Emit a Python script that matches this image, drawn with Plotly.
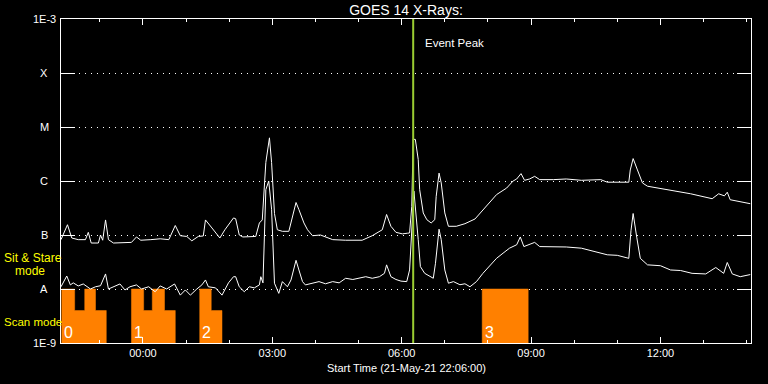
import math
import pandas as pd
import plotly.graph_objects as go

# ---------------- data ----------------
start_time = "2021-05-21 22:06:00"
end_time = "2021-05-22 14:06:00"
event_peak_time = "2021-05-22 06:16:00"

# long channel (1-8 A), minutes after start, flux W/m^2
long_min = [0, 9, 15, 24, 34, 38, 42, 52, 55, 58, 62, 66, 73, 86, 98, 105, 111, 125, 138, 150,
            159, 166, 175, 182, 191, 198, 201, 210, 221, 228, 240, 243, 248, 253, 271, 276, 280, 285, 290, 293,
            297, 301, 308, 317, 327, 331, 338, 343, 350, 361, 378, 396, 419, 433, 447, 453, 459, 466, 475, 482,
            485, 488, 490, 493, 497, 499, 504, 509, 515, 520, 522, 526, 529, 534, 539, 550, 562, 576, 592, 606,
            620, 629, 634, 640, 645, 652, 659, 666, 685, 703, 724, 741, 751, 760, 790, 792, 796, 802, 809, 816,
            843, 876, 906, 915, 923, 927, 931, 943, 959]
long_flux = [8.2e-8, 1.55e-7, 8.8e-8, 8.2e-8, 8.2e-8, 1.12e-7, 7.1e-8, 7.1e-8, 1.0e-7, 8e-8,
             1.9e-7, 8.2e-8, 7.1e-8, 7.1e-8, 7.3e-8, 9.2e-8, 8.0e-8, 8.2e-8, 8.5e-8, 8.2e-8,
             1.5e-7, 9.7e-8, 9.4e-8, 7.8e-8, 9.4e-8, 9.6e-8, 1.9e-7, 1.35e-7, 8.8e-8, 1.25e-7,
             2.07e-7, 2.0e-7, 1.0e-7, 9.2e-8, 9.4e-8, 1.67e-7, 1.9e-7, 2.2e-6, 6.3e-6, 2.2e-6,
             2.5e-7, 1.25e-7, 1.17e-7, 1.17e-7, 4.0e-7, 2.95e-7, 1.67e-7, 1.25e-7, 9.7e-8, 1.0e-7,
             8.2e-8, 8e-8, 8e-8, 9.7e-8, 1.25e-7, 2.4e-7, 1.45e-7, 1.12e-7, 1.05e-7, 1.08e-7,
             1.09e-7, 3.4e-7, 5.9e-6, 5.9e-6, 2.5e-6, 6.9e-7, 2.56e-7, 1.92e-7, 1.67e-7, 1.92e-7,
             5.2e-7, 1.4e-6, 9.2e-7, 2.56e-7, 1.45e-7, 1.45e-7, 1.62e-7, 1.98e-7, 3.4e-7, 5.6e-7,
             7.4e-7, 1.0e-6, 1.09e-6, 1.37e-6, 1.03e-6, 1.09e-6, 1.22e-6, 1.06e-6, 1.06e-6, 1.09e-6,
             1.03e-6, 1.03e-6, 1.06e-6, 9.5e-7, 9.5e-7, 1.6e-6, 2.6e-6, 1.6e-6, 9.2e-7, 8.0e-7,
             6.9e-7, 5.8e-7, 4.7e-7, 5.8e-7, 5.3e-7, 6.2e-7, 4.5e-7, 4.2e-7, 3.8e-7]

# short channel (0.5-4 A)
short_min = [0, 8, 13, 17, 24, 31, 41, 48, 55, 62, 66, 73, 82, 89, 96, 105, 112, 122, 131, 138,
             147, 158, 166, 173, 180, 189, 196, 201, 205, 215, 224, 233, 240, 243, 248, 255, 262, 269, 276, 278,
             281, 285, 289, 293, 297, 301, 303, 308, 315, 320, 327, 331, 336, 340, 350, 359, 368, 378, 387, 396,
             406, 415, 424, 433, 443, 450, 453, 459, 466, 473, 481, 485, 488, 491, 497, 500, 506, 513, 518, 521,
             526, 529, 534, 539, 546, 555, 562, 569, 578, 587, 597, 606, 615, 624, 634, 639, 644, 652, 659, 666,
             685, 703, 724, 741, 760, 774, 790, 793, 796, 801, 806, 816, 834, 848, 862, 878, 897, 911, 922, 927,
             934, 945, 959]
short_flux = [1.1e-8, 1.74e-8, 1.19e-8, 1.3e-8, 1.14e-8, 1.24e-8, 1.0e-8, 1.1e-8, 1.15e-8, 1.9e-8,
              1.0e-8, 1.1e-8, 1.24e-8, 9.6e-9, 1.1e-8, 1.19e-8, 1.0e-8, 1.1e-8, 8.9e-9, 1.14e-8,
              1.0e-8, 1.24e-8, 7.7e-9, 9.6e-9, 7.7e-9, 1.0e-8, 1.19e-8, 1.47e-8, 1.1e-8, 1.05e-8,
              7.7e-9, 1.3e-8, 1.69e-8, 1.69e-8, 1.1e-8, 8.9e-9, 1.1e-8, 1.05e-8, 1.19e-8, 1.69e-8,
              1.3e-8, 6.9e-7, 1.0e-6, 3.0e-7, 1.28e-8, 9.6e-9, 8.3e-9, 1.37e-8, 1.1e-8, 1.47e-8,
              3.4e-8, 2.25e-8, 1.37e-8, 1.19e-8, 1.3e-8, 1.37e-8, 1.25e-8, 1.37e-8, 1.3e-8, 1.58e-8,
              1.5e-8, 1.58e-8, 1.69e-8, 1.58e-8, 1.69e-8, 1.95e-8, 2.8e-8, 1.69e-8, 1.5e-8, 1.4e-8,
              1.37e-8, 2.25e-8, 1.2e-7, 6.5e-7, 8.2e-8, 2.6e-8, 1.95e-8, 1.69e-8, 1.58e-8, 3.0e-8,
              1.28e-7, 8.2e-8, 2.25e-8, 1.28e-8, 1.37e-8, 1.2e-8, 1.25e-8, 1.1e-8, 1.37e-8, 1.95e-8,
              2.8e-8, 3.7e-8, 4.6e-8, 5.7e-8, 6.6e-8, 9.2e-8, 6.1e-8, 6.6e-8, 7.3e-8, 6.1e-8,
              6e-8, 6e-8, 5.7e-8, 5.0e-8, 4.3e-8, 4.2e-8, 3.7e-8, 1.2e-7, 2.5e-7, 9.1e-8,
              3.7e-8, 2.8e-8, 2.7e-8, 2.25e-8, 2.2e-8, 1.95e-8, 1.9e-8, 2.5e-8, 1.95e-8, 3.1e-8,
              1.9e-8, 1.69e-8, 1.85e-8]

# scan mode blocks (minutes after start) and their top level
scan_start_min = [1, 19, 33, 48, 98, 115, 127, 144, 193, 209, 586]
scan_end_min = [19, 33, 48, 63, 115, 127, 144, 159, 209, 224, 650]
scan_top = [1e-8, 4e-9, 1e-8, 4e-9, 1e-8, 4e-9, 1e-8, 4e-9, 1e-8, 4e-9, 1e-8]
scan_base = 1e-9
scan_label_min = [2, 99, 194, 587]
scan_labels = ["0", "1", "2", "3"]

ytick_vals = [1e-9, 1e-8, 1e-7, 1e-6, 1e-5, 1e-4, 1e-3]
ytick_text = ["1E-9", "A", "B", "C", "M", "X", "1E-3"]

# ---------------- build figure ----------------
t0 = pd.Timestamp(start_time)


def to_time(mins):
    return [t0 + pd.Timedelta(minutes=m) for m in mins]


FONT = "Liberation Sans, Arial, sans-serif"
ORANGE = "#ff8000"
fig = go.Figure()

# group contiguous scan segments into one stepped outline each (avoids seams)
groups = []
for s, e, top in zip(scan_start_min, scan_end_min, scan_top):
    if groups and groups[-1][-1][1] == s:
        groups[-1].append((s, e, top))
    else:
        groups.append([(s, e, top)])

for g in groups:
    xs = [g[0][0]]
    ys = [scan_base]
    for s, e, top in g:
        xs += [s, e]
        ys += [top, top]
    xs += [g[-1][1], g[0][0]]
    ys += [scan_base, scan_base]
    fig.add_trace(go.Scatter(x=to_time(xs), y=ys, mode="lines", fill="toself",
                             fillcolor=ORANGE, line=dict(width=0.5, color=ORANGE),
                             hoverinfo="skip"))

fig.add_trace(go.Scatter(x=to_time(long_min), y=long_flux, mode="lines",
                         line=dict(color="white", width=1), name="1-8 A"))
fig.add_trace(go.Scatter(x=to_time(short_min), y=short_flux, mode="lines",
                         line=dict(color="white", width=1), name="0.5-4 A"))
fig.add_trace(go.Scatter(x=[event_peak_time, event_peak_time], y=[ytick_vals[0], ytick_vals[-1]],
                         mode="lines", line=dict(color="#9acd32", width=2), name="Event Peak"))

annotations = []
for v, txt in zip(ytick_vals, ytick_text):
    annotations.append(dict(x=-0.0245, xref="paper", y=math.log10(v), yref="y", text=txt,
                            showarrow=False, xanchor="center", yanchor="middle",
                            font=dict(family=FONT, size=11, color="white")))
for m, txt in zip(to_time(scan_label_min), scan_labels):
    annotations.append(dict(x=m, xref="x", y=0.031, yref="paper", text=txt, showarrow=False,
                            xanchor="left", yanchor="middle",
                            font=dict(family=FONT, size=16, color="white")))
annotations += [
    dict(x=t0 + pd.Timedelta(minutes=504), xref="x", y=0.926, yref="paper", text="Event Peak",
         showarrow=False, xanchor="left", yanchor="middle",
         font=dict(family=FONT, size=11.5, color="white")),
    dict(x=-0.0855, xref="paper", y=0.262, yref="paper", text="Sit & Stare", showarrow=False,
         xanchor="left", yanchor="middle", font=dict(family=FONT, size=12, color="#ffff00")),
    dict(x=-0.0696, xref="paper", y=0.222, yref="paper", text="mode", showarrow=False,
         xanchor="left", yanchor="middle", font=dict(family=FONT, size=12, color="#ffff00")),
    dict(x=-0.0855, xref="paper", y=0.065, yref="paper", text="Scan mode", showarrow=False,
         xanchor="left", yanchor="middle", font=dict(family=FONT, size=11.5, color="#ffff00")),
    dict(x=0.5, xref="paper", y=-0.077, yref="paper", text="Start Time (21-May-21 22:06:00)",
         showarrow=False, xanchor="center", yanchor="middle",
         font=dict(family=FONT, size=11, color="white")),
]

fig.update_layout(
    width=768, height=384,
    margin=dict(l=61, r=17, t=19, b=41),
    paper_bgcolor="black", plot_bgcolor="black",
    showlegend=False,
    font=dict(family=FONT, size=11, color="white"),
    title=dict(text="GOES 14 X-Rays:", x=0.5, xref="paper", xanchor="center",
               y=1 - 10 / 384, yanchor="middle",
               font=dict(family=FONT, size=14, color="white")),
    annotations=annotations,
    xaxis=dict(type="date", range=[start_time, end_time],
               showline=True, linecolor="white", linewidth=1, mirror="ticks",
               ticks="inside", ticklen=6, tickwidth=1, tickcolor="white",
               tick0="2021-05-22 00:00:00", dtick=3 * 3600000, tickformat="%H:%M",
               tickfont=dict(family=FONT, size=11, color="white"),
               showgrid=False, zeroline=False,
               minor=dict(ticks="inside", ticklen=3, tickcolor="white", tickwidth=1,
                          tick0="2021-05-22 00:00:00", dtick=3600000, showgrid=False)),
    yaxis=dict(type="log", range=[-9, -3],
               showline=True, linecolor="white", linewidth=1, mirror="ticks",
               ticks="inside", ticklen=14, tickwidth=1, tickcolor="white",
               tickvals=ytick_vals, showticklabels=False,
               showgrid=True, gridcolor="white", gridwidth=1, griddash="1px,5px",
               zeroline=False),
)

fig.write_html("out.html")
